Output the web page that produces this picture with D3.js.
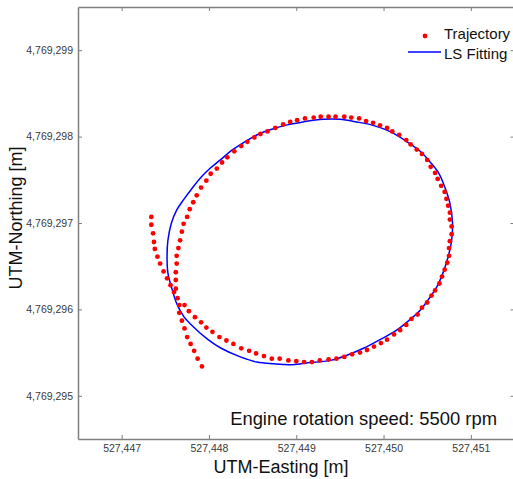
<!DOCTYPE html>
<html>
<head>
<meta charset="utf-8">
<script src="https://cdn.jsdelivr.net/npm/d3@7/dist/d3.min.js"></script>
<style>
  html, body { margin: 0; padding: 0; background: #fff; }
  svg { display: block; font-family: "Liberation Sans", Arial, sans-serif; }
</style>
</head>
<body>
<svg id="chart" width="513" height="479"></svg>
<script>
// Measured trajectory (UTM, metres)
const trajEasting = [
  527447.34, 527447.34, 527447.36, 527447.37, 527447.38, 527447.41, 527447.44, 527447.48,
  527447.52, 527447.56, 527447.60, 527447.64, 527447.72, 527447.77, 527447.84, 527447.91,
  527447.97, 527448.04, 527448.12, 527448.20, 527448.28, 527448.37, 527448.46, 527448.54,
  527448.63, 527448.72, 527448.81, 527448.91, 527449.00, 527449.09, 527449.18, 527449.27,
  527449.37, 527449.46, 527449.55, 527449.64, 527449.73, 527449.81, 527449.89, 527449.97,
  527450.04, 527450.12, 527450.19, 527450.26, 527450.32, 527450.39, 527450.44, 527450.50,
  527450.55, 527450.59, 527450.64, 527450.67, 527450.70, 527450.73, 527450.75, 527450.75,
  527450.76, 527450.78, 527450.78, 527450.76, 527450.76, 527450.74, 527450.72, 527450.70,
  527450.66, 527450.62, 527450.59, 527450.54, 527450.50, 527450.44, 527450.38, 527450.31,
  527450.26, 527450.18, 527450.10, 527450.04, 527449.96, 527449.88, 527449.80, 527449.72,
  527449.63, 527449.55, 527449.45, 527449.37, 527449.28, 527449.20, 527449.10, 527449.01,
  527448.93, 527448.85, 527448.76, 527448.67, 527448.59, 527448.52, 527448.44, 527448.37,
  527448.29, 527448.21, 527448.15, 527448.09, 527448.02, 527447.97, 527447.91, 527447.86,
  527447.82, 527447.78, 527447.75, 527447.71, 527447.69, 527447.67, 527447.65, 527447.63,
  527447.63, 527447.62, 527447.62, 527447.62, 527447.66, 527447.66, 527447.69, 527447.72,
  527447.75, 527447.79, 527447.83, 527447.87, 527447.92
];
const trajNorthing = [
  4769297.07, 4769296.98, 4769296.88, 4769296.78, 4769296.70, 4769296.61, 4769296.53, 4769296.44,
  4769296.36, 4769296.28, 4769296.20, 4769296.13, 4769296.05, 4769295.98, 4769295.91, 4769295.85,
  4769295.79, 4769295.74, 4769295.68, 4769295.64, 4769295.60, 4769295.55, 4769295.52, 4769295.49,
  4769295.46, 4769295.43, 4769295.43, 4769295.41, 4769295.40, 4769295.39, 4769295.39, 4769295.41,
  4769295.42, 4769295.43, 4769295.45, 4769295.48, 4769295.50, 4769295.53, 4769295.57, 4769295.61,
  4769295.65, 4769295.71, 4769295.76, 4769295.82, 4769295.89, 4769295.94, 4769296.02, 4769296.08,
  4769296.16, 4769296.22, 4769296.30, 4769296.38, 4769296.46, 4769296.54, 4769296.62, 4769296.71,
  4769296.79, 4769296.87, 4769296.96, 4769297.04, 4769297.12, 4769297.20, 4769297.28, 4769297.36,
  4769297.43, 4769297.51, 4769297.58, 4769297.65, 4769297.73, 4769297.80, 4769297.85, 4769297.91,
  4769297.96, 4769298.02, 4769298.06, 4769298.10, 4769298.13, 4769298.16, 4769298.18, 4769298.21,
  4769298.22, 4769298.23, 4769298.23, 4769298.23, 4769298.23, 4769298.22, 4769298.21, 4769298.19,
  4769298.17, 4769298.14, 4769298.10, 4769298.06, 4769298.03, 4769297.99, 4769297.94, 4769297.89,
  4769297.83, 4769297.76, 4769297.70, 4769297.63, 4769297.57, 4769297.49, 4769297.41, 4769297.32,
  4769297.24, 4769297.16, 4769297.07, 4769296.99, 4769296.90, 4769296.80, 4769296.71, 4769296.62,
  4769296.53, 4769296.43, 4769296.34, 4769296.24, 4769296.05, 4769295.96, 4769295.87, 4769295.78,
  4769295.68, 4769295.60, 4769295.52, 4769295.43, 4769295.34
];

// Least-squares fitted closed curve (UTM, metres)
const fitEasting = [
  527447.79, 527447.92, 527448.01, 527448.13, 527448.26, 527448.41, 527448.57, 527448.70,
  527448.87, 527449.08, 527449.31, 527449.50, 527449.69, 527449.88, 527450.07, 527450.27,
  527450.42, 527450.53, 527450.63, 527450.70, 527450.76, 527450.79, 527450.78, 527450.74,
  527450.68, 527450.61, 527450.51, 527450.42, 527450.30, 527450.15, 527449.96, 527449.77,
  527449.58, 527449.39, 527449.12, 527448.93, 527448.74, 527448.55, 527448.36, 527448.14,
  527447.99, 527447.82, 527447.71, 527447.63, 527447.57, 527447.53, 527447.52, 527447.53,
  527447.57, 527447.63, 527447.71
];
const fitNorthing = [
  4769297.38, 4769297.54, 4769297.63, 4769297.73, 4769297.84, 4769297.94, 4769298.03, 4769298.08,
  4769298.13, 4769298.17, 4769298.20, 4769298.20, 4769298.17, 4769298.13, 4769298.06, 4769297.94,
  4769297.83, 4769297.71, 4769297.58, 4769297.42, 4769297.23, 4769297.00, 4769296.80, 4769296.61,
  4769296.42, 4769296.26, 4769296.11, 4769295.99, 4769295.88, 4769295.76, 4769295.65, 4769295.55,
  4769295.47, 4769295.41, 4769295.38, 4769295.36, 4769295.37, 4769295.39, 4769295.45, 4769295.55,
  4769295.65, 4769295.80, 4769295.92, 4769296.07, 4769296.26, 4769296.42, 4769296.61, 4769296.80,
  4769297.00, 4769297.15, 4769297.27
];

const xTicks = [527447, 527448, 527449, 527450, 527451];
const yTicks = [4769295, 4769296, 4769297, 4769298, 4769299];
const legendLabels = ["Trajectory", "LS Fitting"];
const annotation = "Engine rotation speed: 5500 rpm";

const svg = d3.select("#chart");
const plot = { left: 78, top: 7, right: 514.5, bottom: 439 };

const x = d3.scaleLinear().domain([527446.5, 527451.5]).range([plot.left, plot.right]);
const y = d3.scaleLinear().domain([4769294.5, 4769299.5]).range([plot.bottom, plot.top]);

const fmt = d3.format(",");
const axisColor = "#7f7f7f";
const labelColor = "#3a3a3a";

function styleAxis(g) {
  g.select(".domain").attr("stroke", axisColor).attr("stroke-width", 1.5);
  g.selectAll(".tick line").attr("stroke", axisColor).attr("stroke-width", 1);
  g.selectAll(".tick text").attr("fill", labelColor).style("font-size", "10.5px")
    .style("font-family", "'Liberation Sans', Arial, sans-serif");
}

// Frame: bottom, left, top, right axes with inward ticks
svg.append("g").attr("transform", `translate(0,${plot.bottom})`)
  .call(d3.axisBottom(x).tickValues(xTicks).tickFormat(fmt).tickSizeInner(-4).tickSizeOuter(0).tickPadding(6))
  .call(styleAxis);
svg.append("g").attr("transform", `translate(${plot.left},0)`)
  .call(d3.axisLeft(y).tickValues(yTicks).tickFormat(fmt).tickSizeInner(-4).tickSizeOuter(0).tickPadding(5))
  .call(styleAxis);
svg.append("g").attr("transform", `translate(0,${plot.top})`)
  .call(d3.axisTop(x).tickValues(xTicks).tickFormat("").tickSizeInner(-4).tickSizeOuter(0))
  .call(styleAxis);
svg.append("g").attr("transform", `translate(${plot.right},0)`)
  .call(d3.axisRight(y).tickValues(yTicks).tickFormat("").tickSizeInner(-4).tickSizeOuter(0))
  .call(styleAxis);

// Fitted curve
const fitPts = fitEasting.map((e, i) => [e, fitNorthing[i]]);
svg.append("path")
  .datum(fitPts)
  .attr("fill", "none")
  .attr("stroke", "#0000ff")
  .attr("stroke-width", 1.5)
  .attr("d", d3.line().x(d => x(d[0])).y(d => y(d[1])).curve(d3.curveCatmullRomClosed.alpha(0.5)));

// Trajectory points
const trajPts = trajEasting.map((e, i) => [e, trajNorthing[i]]);
svg.append("g").selectAll("circle")
  .data(trajPts)
  .join("circle")
  .attr("cx", d => x(d[0]))
  .attr("cy", d => y(d[1]))
  .attr("r", 2.4)
  .attr("fill", "#ff0000");

// Axis titles
svg.append("text")
  .attr("x", 281).attr("y", 473)
  .attr("text-anchor", "middle")
  .attr("fill", "#111")
  .style("font-size", "18px")
  .text("UTM-Easting [m]");
svg.append("text")
  .attr("transform", "translate(22,218) rotate(-90)")
  .attr("text-anchor", "middle")
  .attr("fill", "#111")
  .style("font-size", "18px")
  .text("UTM-Northing [m]");

// Annotation
svg.append("text")
  .attr("x", 497).attr("y", 425)
  .attr("text-anchor", "end")
  .attr("fill", "#111")
  .style("font-size", "18.4px")
  .text(annotation);

// Legend
const legend = svg.append("g");
legend.append("circle").attr("cx", 425).attr("cy", 36).attr("r", 2.4).attr("fill", "#ff0000");
legend.append("text").attr("x", 444).attr("y", 39).attr("fill", "#111")
  .style("font-size", "15px").text(legendLabels[0]);
legend.append("line").attr("x1", 408).attr("x2", 441).attr("y1", 52).attr("y2", 52)
  .attr("stroke", "#0000ff").attr("stroke-width", 1.5);
legend.append("text").attr("x", 444).attr("y", 59).attr("fill", "#111")
  .style("font-size", "15px").text(legendLabels[1]);
</script>
</body>
</html>
